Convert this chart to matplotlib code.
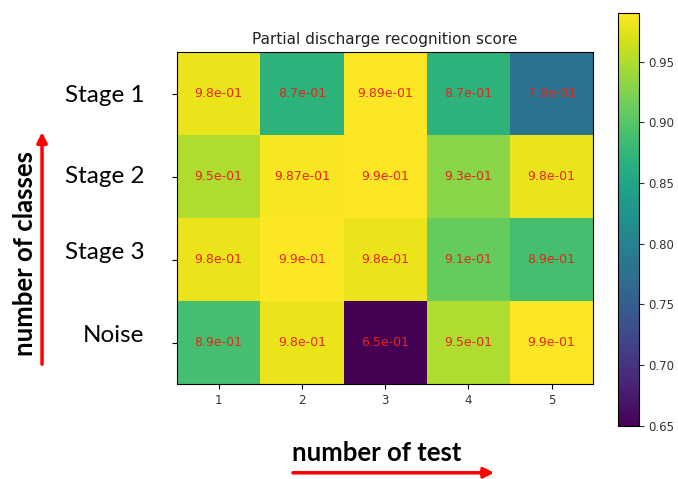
import numpy as np
import matplotlib
matplotlib.use("Agg")
import matplotlib.pyplot as plt
from matplotlib.transforms import ScaledTranslation

classes = ["Stage 1", "Stage 2", "Stage 3", "Noise"]
tests = ["1", "2", "3", "4", "5"]
scores = [
    [0.98, 0.87, 0.989, 0.87, 0.78],
    [0.95, 0.987, 0.99, 0.93, 0.98],
    [0.98, 0.99, 0.98, 0.91, 0.89],
    [0.89, 0.98, 0.65, 0.95, 0.99],
]

data = np.array(scores)

fig = plt.figure(figsize=(6.78, 4.79), dpi=100)
ax = fig.add_axes([0.261, 0.198, 0.614, 0.693])
cax = fig.add_axes([0.9115, 0.111, 0.031, 0.862])

im = ax.imshow(data, cmap="viridis", aspect="auto", vmin=0.65, vmax=0.99)

for i in range(data.shape[0]):
    for j in range(data.shape[1]):
        ax.text(j, i, np.format_float_scientific(data[i, j], exp_digits=2),
                ha="center", va="center", color="#e8241c", fontsize=9)

ax.set_xticks(range(len(tests)))
ax.set_xticklabels(tests, fontsize=8.5, color="#333333")
ax.set_yticks(range(len(classes)))
ax.set_yticklabels(classes, fontsize=17.5, family="Lato", color="black")
ax.tick_params(axis="y", pad=20, length=3.5)
ax.tick_params(axis="x", length=3.5)
ax.set_title("Partial discharge recognition score", fontsize=11, color="#222222", pad=6)

# lower class labels sit a little above their rows
for lab, dy in zip(ax.get_yticklabels(), [0, 2, 9, 9]):
    lab.set_transform(lab.get_transform() + ScaledTranslation(0, dy / 100, fig.dpi_scale_trans))

cb = fig.colorbar(im, cax=cax)
cb.set_ticks([0.65, 0.70, 0.75, 0.80, 0.85, 0.90, 0.95])
cb.ax.tick_params(labelsize=8.5, colors="#333333")

# axis captions with direction arrows
fig.text(0.037, 0.47, "number of classes", rotation=90, ha="center", va="center",
         fontsize=18.5, fontweight="bold", family="Lato")
fig.patches.append(matplotlib.patches.FancyArrowPatch(
    (0.062, 0.234), (0.062, 0.73), transform=fig.transFigure,
    arrowstyle="-|>,head_length=6,head_width=3", color="red", lw=2.5,
    mutation_scale=1))

fig.text(0.555, 0.054, "number of test", ha="center", va="center",
         fontsize=18.5, fontweight="bold", family="Lato")
fig.patches.append(matplotlib.patches.FancyArrowPatch(
    (0.428, 0.013), (0.733, 0.013), transform=fig.transFigure,
    arrowstyle="-|>,head_length=6,head_width=3", color="red", lw=2.5,
    mutation_scale=1))

fig.savefig("out.png", dpi=100)
